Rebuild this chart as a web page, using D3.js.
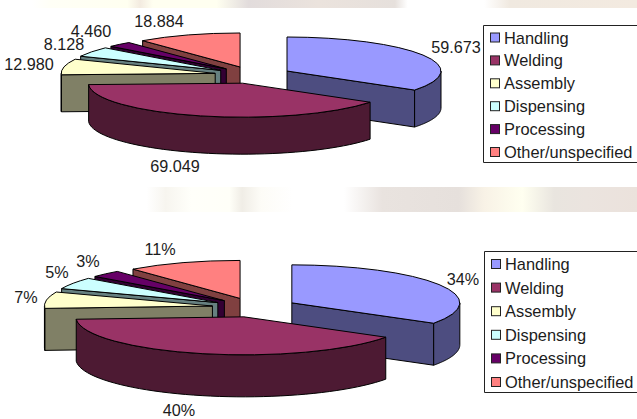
<!DOCTYPE html>
<html>
<head>
<meta charset="utf-8">
<script src="https://cdnjs.cloudflare.com/ajax/libs/d3/7.9.0/d3.min.js"></script>
<style>
  html, body { margin: 0; padding: 0; background: #fff; }
  svg { display: block; }
  text { font-family: "Liberation Sans", Arial, sans-serif; fill: #1c1c1c; }
</style>
</head>
<body>
<script>
// Robot installations by application, shown as units and as shares
const categories = ["Handling", "Welding", "Assembly", "Dispensing", "Processing", "Other/unspecified"];
const unitValues = [59.673, 69.049, 12.980, 8.128, 4.460, 18.884];
const unitLabels = ["59.673", "69.049", "12.980", "8.128", "4.460", "18.884"];
const shareValues = [34, 40, 7, 5, 3, 11];
const shareLabels = ["34%", "40%", "7%", "5%", "3%", "11%"];
const topColors = ["#9999ff", "#993366", "#ffffcc", "#ccffff", "#660066", "#ff8080"];
const sideColors = ["#4d4d80", "#4d1a33", "#808066", "#668080", "#330033", "#804040"];

// Back-to-front painting order of the slices
const paintOrder = [5, 4, 3, 2, 0, 1];

const width = 637, height = 419;
const svg = d3.select("body").append("svg").attr("width", width).attr("height", height);
const defs = svg.append("defs");

// Faded backdrop strips above and between the charts
function backdropStrip(id, y, h, stops) {
  const grad = defs.append("linearGradient").attr("id", id);
  stops.forEach(([o, c]) => grad.append("stop").attr("offset", o).attr("stop-color", c));
  svg.append("rect").attr("x", 0).attr("y", y).attr("width", width).attr("height", h)
    .attr("fill", `url(#${id})`);
}
backdropStrip("stripTop", 0, 8, [
  [0, "#ffffff"], [0.05, "#ffffff"], [0.08, "#fffff6"], [0.2, "#fffff0"], [0.22, "#f3ebe0"],
  [0.24, "#fffff0"], [0.34, "#fffff0"], [0.39, "#e2dcdc"], [0.5, "#ebe3dd"], [0.62, "#e6e0dc"],
  [0.64, "#ffffff"], [0.76, "#ffffff"], [0.8, "#f0e9e0"], [1, "#f3eae0"]
]);
backdropStrip("stripMid", 187, 25, [
  [0, "#ffffff"], [0.23, "#ffffff"], [0.26, "#f7f5ef"], [0.3, "#fffffa"], [0.36, "#fffff8"],
  [0.38, "#f0ede6"], [0.41, "#fdfcf7"], [0.46, "#ffffff"], [0.54, "#ffffff"], [0.6, "#e9e3df"],
  [0.72, "#e6e0dc"], [0.76, "#f8f2e6"], [0.82, "#fffff0"], [0.87, "#e9e5df"], [0.92, "#ebe4df"],
  [1, "#ebe2dc"]
]);

const pie = d3.pie().sort(null).value(d => d);
const topArc = d3.arc().innerRadius(0);
const outline = d3.line();

function drawPie(cfg) {
  const { cx, cy, rx, ry, depth, explode, values, labels, labelPos } = cfg;
  const g = svg.append("g");
  const arcs = pie(values);
  const k = ry / rx;

  paintOrder.forEach(i => {
    const a = arcs[i];
    const mid = (a.startAngle + a.endAngle) / 2;
    const ox = cx + explode * Math.sin(mid);
    const oy = cy - explode * k * Math.cos(mid);
    const rim = t => [ox + rx * Math.sin(t), oy - ry * Math.cos(t)];
    const drop = p => [p[0], p[1] + depth];
    const slab = points => g.append("path")
      .attr("d", outline(points) + "Z")
      .attr("fill", sideColors[i]).attr("stroke", "#000").attr("stroke-width", 1).attr("stroke-linejoin", "round");

    // Radial cut faces that turn towards the viewer
    if (a.startAngle > Math.PI) {
      const p = rim(a.startAngle);
      slab([[ox, oy], p, drop(p), [ox, oy + depth]]);
    }
    if (a.endAngle < Math.PI && a.endAngle > 0) {
      const p = rim(a.endAngle);
      slab([[ox, oy], p, drop(p), [ox, oy + depth]]);
    }

    // Outer wall, only across the front half of the ellipse
    const t0 = Math.max(a.startAngle, Math.PI / 2);
    const t1 = Math.min(a.endAngle, 3 * Math.PI / 2);
    if (t1 > t0) {
      const upper = d3.range(0, 49).map(n => rim(t0 + (t1 - t0) * n / 48));
      slab(upper.concat(upper.map(drop).reverse()));
    }

    // Top surface: a pie wedge flattened into an ellipse
    g.append("path")
      .attr("transform", `translate(${ox},${oy}) scale(1,${k})`)
      .attr("d", topArc({ outerRadius: rx, startAngle: a.startAngle, endAngle: a.endAngle }))
      .attr("fill", topColors[i])
      .attr("stroke", "#000").attr("stroke-width", 1)
      .attr("vector-effect", "non-scaling-stroke").attr("stroke-linejoin", "round");
  });

  g.selectAll("text.value").data(labels).join("text").attr("class", "value")
    .attr("x", (d, i) => labelPos[i][0]).attr("y", (d, i) => labelPos[i][1])
    .attr("text-anchor", "middle").attr("dominant-baseline", "central")
    .attr("font-size", 16.2).text(d => d);
}

function drawLegend(cfg) {
  const { x, y, h, rows } = cfg;
  const g = svg.append("g");
  g.append("path")
    .attr("d", `M${width},${y + 0.5}H${x + 0.5}V${y + h + 0.5}H${width}`)
    .attr("fill", "#fff").attr("stroke", "#222").attr("stroke-width", 1);
  const row = d3.scalePoint().domain(categories).range(rows);
  const item = g.selectAll("g").data(categories).join("g")
    .attr("transform", d => `translate(${x + 7},${row(d)})`);
  item.append("rect").attr("x", 0.5).attr("y", -4.5).attr("width", 9).attr("height", 9)
    .attr("fill", (d, i) => topColors[i]).attr("stroke", "#222").attr("stroke-width", 1);
  item.append("text").attr("x", 14).attr("dominant-baseline", "central")
    .attr("font-size", 16.4).text(d => d);
}

drawPie({
  cx: 253, cy: 75, rx: 154, ry: 34, depth: 37, explode: 38.5,
  values: unitValues, labels: unitLabels,
  labelPos: [[456, 47], [175, 166], [29, 64], [64, 44], [91, 31], [159, 21]]
});
drawPie({
  cx: 254.5, cy: 307.5, rx: 168, ry: 38, depth: 42, explode: 42.6,
  values: shareValues, labels: shareLabels,
  labelPos: [[463, 279], [179, 410], [26, 297], [57, 272], [88, 261], [160, 249]]
});
drawLegend({ x: 483, y: 25, h: 137, rows: [37.5, 152] });
drawLegend({ x: 484, y: 251, h: 141, rows: [264, 382] });
</script>
</body>
</html>
